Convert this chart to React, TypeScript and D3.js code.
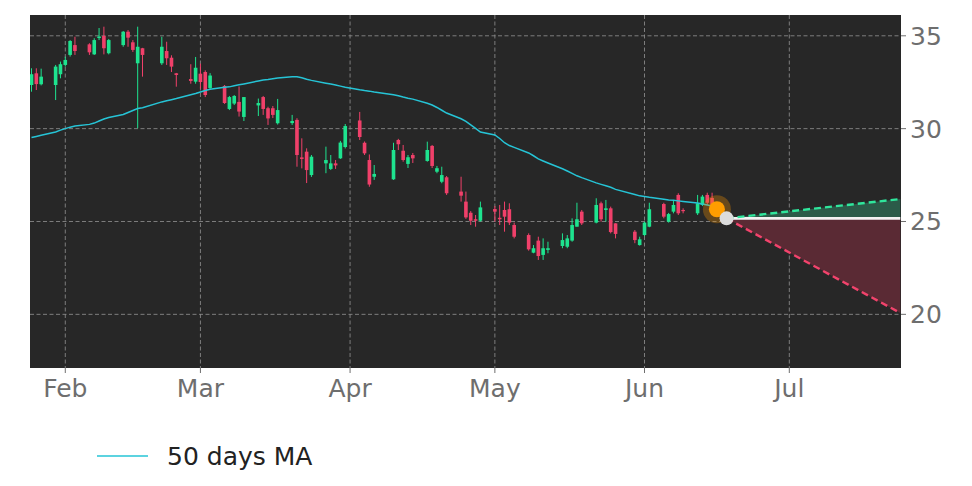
import React from 'react';
import * as d3 from 'd3';

const W = 972;
const H = 486;
const PLOT = { left: 30, right: 901, top: 15, bottom: 368 };

const dates = [
  "2023-01-25","2023-01-26","2023-01-27","2023-01-30","2023-01-31",
  "2023-02-01","2023-02-02","2023-02-03","2023-02-06","2023-02-07","2023-02-08","2023-02-09","2023-02-10",
  "2023-02-13","2023-02-14","2023-02-15","2023-02-16","2023-02-17","2023-02-21","2023-02-22","2023-02-23",
  "2023-02-24","2023-02-27","2023-02-28",
  "2023-03-01","2023-03-02","2023-03-03","2023-03-06","2023-03-07","2023-03-08","2023-03-09","2023-03-10",
  "2023-03-13","2023-03-14","2023-03-15","2023-03-16","2023-03-17","2023-03-20","2023-03-21","2023-03-22",
  "2023-03-23","2023-03-24","2023-03-27","2023-03-28","2023-03-29","2023-03-30","2023-03-31",
  "2023-04-03","2023-04-04","2023-04-05","2023-04-06","2023-04-10","2023-04-11","2023-04-12","2023-04-13",
  "2023-04-14","2023-04-17","2023-04-18","2023-04-19","2023-04-20","2023-04-21","2023-04-24","2023-04-25",
  "2023-04-26","2023-04-27","2023-04-28",
  "2023-05-01","2023-05-02","2023-05-03","2023-05-04","2023-05-05","2023-05-08","2023-05-09","2023-05-10",
  "2023-05-11","2023-05-12","2023-05-15","2023-05-16","2023-05-17","2023-05-18","2023-05-19","2023-05-22",
  "2023-05-23","2023-05-24","2023-05-25","2023-05-26","2023-05-30","2023-05-31",
  "2023-06-01","2023-06-02","2023-06-05","2023-06-06","2023-06-07","2023-06-08","2023-06-09","2023-06-12",
  "2023-06-13","2023-06-14","2023-06-15","2023-06-16"
];

const opens = [
  32.35,32.98,32.39,32.35,32.93,
  33.43,33.97,34.50,34.54,34.00,34.88,34.99,34.06,
  34.50,35.22,34.65,33.52,34.33,33.52,34.18,33.82,
  32.98,32.67,32.53,
  32.96,33.05,32.19,32.30,31.06,31.35,31.44,30.63,
  31.25,31.70,31.10,31.10,30.29,30.30,30.47,28.45,
  28.76,27.50,28.13,27.83,28.13,28.40,29.01,
  30.44,29.24,28.31,27.41,27.27,29.39,28.81,28.10,
  28.58,28.26,29.07,27.68,27.14,27.38,26.61,26.07,
  25.47,25.12,25.04,
  25.67,25.20,25.62,25.66,24.81,24.27,23.32,23.97,
  23.20,23.47,23.68,23.64,23.97,24.72,25.53,24.94,
  25.98,25.62,25.71,24.90,24.45,23.73,
  24.27,24.72,25.94,24.99,25.53,26.43,25.62,25.44,
  25.89,26.43,26.27,25.80
];

const highs = [
  33.25,33.25,33.23,33.43,33.61,
  33.88,34.77,34.95,34.60,34.87,35.42,35.49,34.83,
  35.26,35.31,34.77,35.49,34.35,34.95,34.68,33.95,
  33.00,33.47,33.86,
  33.50,33.14,32.99,32.35,31.76,31.81,32.27,31.70,
  31.62,31.76,31.18,31.22,31.60,30.74,30.56,29.48,
  28.94,28.58,29.03,28.58,28.31,29.34,30.25,
  30.90,29.31,28.61,28.04,29.24,29.45,29.12,28.58,
  28.69,29.30,29.12,27.99,27.95,27.45,27.41,26.61,
  25.56,25.35,26.07,
  25.83,25.89,26.07,25.98,24.94,24.36,23.73,24.18,
  24.09,23.91,24.36,24.27,25.17,26.01,25.62,26.25,
  26.07,26.16,25.80,24.90,24.54,24.18,
  24.99,26.01,26.01,25.46,26.16,26.52,25.71,26.43,
  26.43,26.55,26.55,25.95
];

const lows = [
  31.99,32.08,32.33,31.54,32.71,
  33.34,33.88,33.97,33.97,33.97,34.77,34.00,34.00,
  34.41,34.41,34.13,30.02,32.80,33.43,33.43,33.05,
  32.26,32.42,32.42,
  32.15,31.70,32.14,31.33,31.00,31.27,30.65,30.41,
  30.68,30.74,30.20,30.57,30.22,30.20,27.95,27.86,
  27.07,27.40,27.60,27.77,27.83,28.37,28.93,
  29.39,28.58,26.87,27.24,27.24,28.85,28.22,27.88,
  28.15,28.22,27.88,27.60,27.06,26.43,26.07,25.14,
  24.81,24.72,24.99,
  24.99,24.81,24.45,24.81,24.09,23.43,23.29,22.93,
  22.93,23.29,23.56,23.56,23.91,24.72,24.81,24.90,
  24.99,24.99,24.36,24.09,23.83,23.70,
  24.22,24.69,25.17,24.94,25.44,25.35,25.44,25.35,
  25.83,25.89,25.62,25.55
];

const closes = [
  32.93,32.40,32.80,33.34,33.47,
  33.70,34.72,34.18,34.11,34.77,34.96,34.33,34.77,
  35.22,34.90,34.24,34.41,33.97,34.41,33.79,33.34,
  32.89,32.57,33.28,
  32.51,31.81,32.86,31.38,31.70,31.76,30.92,31.70,
  31.38,31.06,30.55,30.74,31.00,30.41,28.58,28.37,
  27.77,28.49,28.31,28.13,28.02,29.25,30.14,
  29.55,28.67,26.99,27.56,28.85,29.16,28.31,28.46,
  28.40,28.85,27.99,27.87,27.50,26.52,26.39,25.22,
  25.04,25.04,25.76,
  25.53,25.12,25.26,24.94,24.18,23.50,23.56,23.14,
  23.56,23.56,24.00,24.09,24.81,25.12,24.90,25.89,
  25.12,25.71,24.43,24.33,24.00,24.04,
  24.94,25.66,25.26,25.40,25.89,25.44,25.56,25.98,
  26.34,26.01,25.78,25.66
];

const ma50 = [
  29.52,29.58,29.64,29.82,29.92,
  30.00,30.08,30.14,30.23,30.30,30.41,30.52,30.60,
  30.76,30.87,30.98,31.08,31.13,31.44,31.50,31.56,
  31.62,31.82,31.89,
  31.97,32.05,32.12,32.23,32.25,32.31,32.36,32.41,
  32.57,32.62,32.65,32.69,32.73,32.79,32.79,32.74,
  32.66,32.60,32.45,32.40,32.35,32.29,32.23,
  32.09,32.05,32.02,31.97,31.82,31.77,31.70,31.64,
  31.59,31.37,31.27,31.14,30.99,30.84,30.53,30.39,
  30.20,30.01,29.82,
  29.66,29.47,29.24,29.09,28.99,28.69,28.54,28.37,
  28.26,28.15,27.84,27.72,27.59,27.46,27.36,27.08,
  27.00,26.92,26.84,26.73,26.45,26.38,
  26.34,26.30,26.20,26.16,26.14,26.11,26.08,26.00,
  25.94,25.89,25.83,25.78
];

const yTicks = [20, 25, 30, 35];
const monthTicks = ["2023-02-01", "2023-03-01", "2023-04-01", "2023-05-01", "2023-06-01", "2023-07-01"];
const monthLabels = ["Feb", "Mar", "Apr", "May", "Jun", "Jul"];

const forecastDates = ["2023-06-18", "2023-07-24"];
const forecastBase = [25.17, 25.17];
const forecastUpper = [25.17, 26.21];
const forecastLower = [25.17, 20.07];

const legendLabel = "50 days MA";

const DAY = 86400000;
const parse = d3.utcParse("%Y-%m-%d");

const COLORS = {
  bg: "#272727",
  up: "#1ee38f",
  down: "#f0406a",
  ma: "#26c4d6",
  grid: "#a8a8a8",
  tick: "#6e6e6e",
  greenFill: "#2b5b49",
  redFill: "#5a2a34",
  greenDash: "#2fe69c",
  redDash: "#f2436c",
};

export default function App() {
  const x = d3
    .scaleUtc()
    .domain([
      new Date(Date.UTC(2023, 1, 1) - 7.31 * DAY),
      new Date(Date.UTC(2023, 6, 1) + 23.14 * DAY),
    ])
    .range([PLOT.left, PLOT.right]);
  const y = d3.scaleLinear().domain([17.11, 36.12]).range([PLOT.bottom, PLOT.top]);

  const candles = dates.map((d, i) => ({
    date: parse(d) as Date,
    o: opens[i],
    h: highs[i],
    l: lows[i],
    c: closes[i],
    ma: ma50[i],
  }));

  const bodyW = 0.75 * (x(new Date(Date.UTC(2023, 1, 2))) - x(new Date(Date.UTC(2023, 1, 1))));

  const maLine = d3
    .line<{ date: Date; ma: number }>()
    .x((d) => x(d.date))
    .y((d) => y(d.ma))(candles);

  const fc = forecastDates.map((d, i) => ({
    date: parse(d) as Date,
    base: forecastBase[i],
    up: forecastUpper[i],
    lo: forecastLower[i],
  }));
  type F = (typeof fc)[number];
  const upArea = d3.area<F>().x((d) => x(d.date)).y0((d) => y(d.base)).y1((d) => y(d.up))(fc);
  const loArea = d3.area<F>().x((d) => x(d.date)).y0((d) => y(d.base)).y1((d) => y(d.lo))(fc);
  const upLine = d3.line<F>().x((d) => x(d.date)).y((d) => y(d.up))(fc);
  const loLine = d3.line<F>().x((d) => x(d.date)).y((d) => y(d.lo))(fc);
  const baseLine = d3.line<F>().x((d) => x(d.date)).y((d) => y(d.base))(fc);

  const last = candles[candles.length - 1];
  const font = "'DejaVu Sans', sans-serif";
  const FS = 25;

  return (
    <svg
      width={W}
      height={H}
      viewBox={`0 0 ${W} ${H}`}
      style={{ position: "absolute", left: 0, top: 0, background: "#ffffff" }}
      fontFamily={font}
    >
      <defs>
        <clipPath id="plotClip">
          <rect x={PLOT.left} y={PLOT.top} width={PLOT.right - PLOT.left} height={PLOT.bottom - PLOT.top} />
        </clipPath>
      </defs>
      <rect
        x={PLOT.left}
        y={PLOT.top}
        width={PLOT.right - PLOT.left}
        height={PLOT.bottom - PLOT.top}
        fill={COLORS.bg}
      />
      {/* grid */}
      <g stroke={COLORS.grid} strokeWidth={0.9} strokeDasharray="4,2.5" opacity={0.75}>
        {monthTicks.map((m) => (
          <line key={m} x1={x(parse(m) as Date)} x2={x(parse(m) as Date)} y1={PLOT.top} y2={PLOT.bottom} />
        ))}
        {yTicks.map((t) => (
          <line key={t} x1={PLOT.left} x2={PLOT.right} y1={y(t)} y2={y(t)} />
        ))}
      </g>

      <g clipPath="url(#plotClip)">
        {/* forecast fills */}
        <path d={upArea || ""} fill={COLORS.greenFill} />
        <path d={loArea || ""} fill={COLORS.redFill} />
        <path d={baseLine || ""} stroke="#f2f2f2" strokeWidth={2.6} fill="none" />

        {/* candles */}
        {candles.map((c, i) => {
          const col = c.c >= c.o ? COLORS.up : COLORS.down;
          const cx = x(c.date);
          const top = y(Math.max(c.o, c.c));
          const bot = y(Math.min(c.o, c.c));
          return (
            <g key={i}>
              <line x1={cx} x2={cx} y1={y(c.h)} y2={y(c.l)} stroke={col} strokeWidth={1} />
              <rect x={cx - bodyW / 2} y={top} width={bodyW} height={Math.max(1.2, bot - top)} fill={col} />
            </g>
          );
        })}

        {/* MA */}
        <path d={maLine || ""} fill="none" stroke={COLORS.ma} strokeWidth={1.5} />

        {/* forecast dashed lines */}
        <path d={upLine || ""} fill="none" stroke={COLORS.greenDash} strokeWidth={2.4} strokeDasharray="7,4" />
        <path d={loLine || ""} fill="none" stroke={COLORS.redDash} strokeWidth={2.4} strokeDasharray="7,4" />

        {/* last close marker */}
        <circle cx={x(last.date)} cy={y(last.c)} r={14} fill="#ff9900" opacity={0.3} />
        <circle cx={x(last.date)} cy={y(last.c)} r={8} fill="#ff9d00" />
        <circle cx={x(fc[0].date)} cy={y(fc[0].base)} r={7} fill="#dcdcdc" />
      </g>

      {/* y axis right */}
      <g>
        {yTicks.map((t) => (
          <g key={t}>
            <line x1={PLOT.right} x2={PLOT.right + 5} y1={y(t)} y2={y(t)} stroke={COLORS.tick} strokeWidth={1} />
            <text x={PLOT.right + 9} y={y(t)} dy="0.36em" fontSize={FS} fill={COLORS.tick}>
              {t}
            </text>
          </g>
        ))}
      </g>
      {/* x axis */}
      <g>
        {monthTicks.map((m, i) => {
          const px = x(parse(m) as Date);
          return (
            <g key={m}>
              <line x1={px} x2={px} y1={PLOT.bottom} y2={PLOT.bottom + 5} stroke={COLORS.tick} strokeWidth={1} />
              <text x={px} y={PLOT.bottom + 29} textAnchor="middle" fontSize={FS} fill={COLORS.tick}>
                {monthLabels[i]}
              </text>
            </g>
          );
        })}
      </g>

      {/* legend */}
      <g>
        <line x1={97} x2={148} y1={456} y2={456} stroke={COLORS.ma} strokeWidth={1.5} />
        <text x={167} y={456} dy="0.36em" fontSize={FS} fill="#222222">
          {legendLabel}
        </text>
      </g>
    </svg>
  );
}
